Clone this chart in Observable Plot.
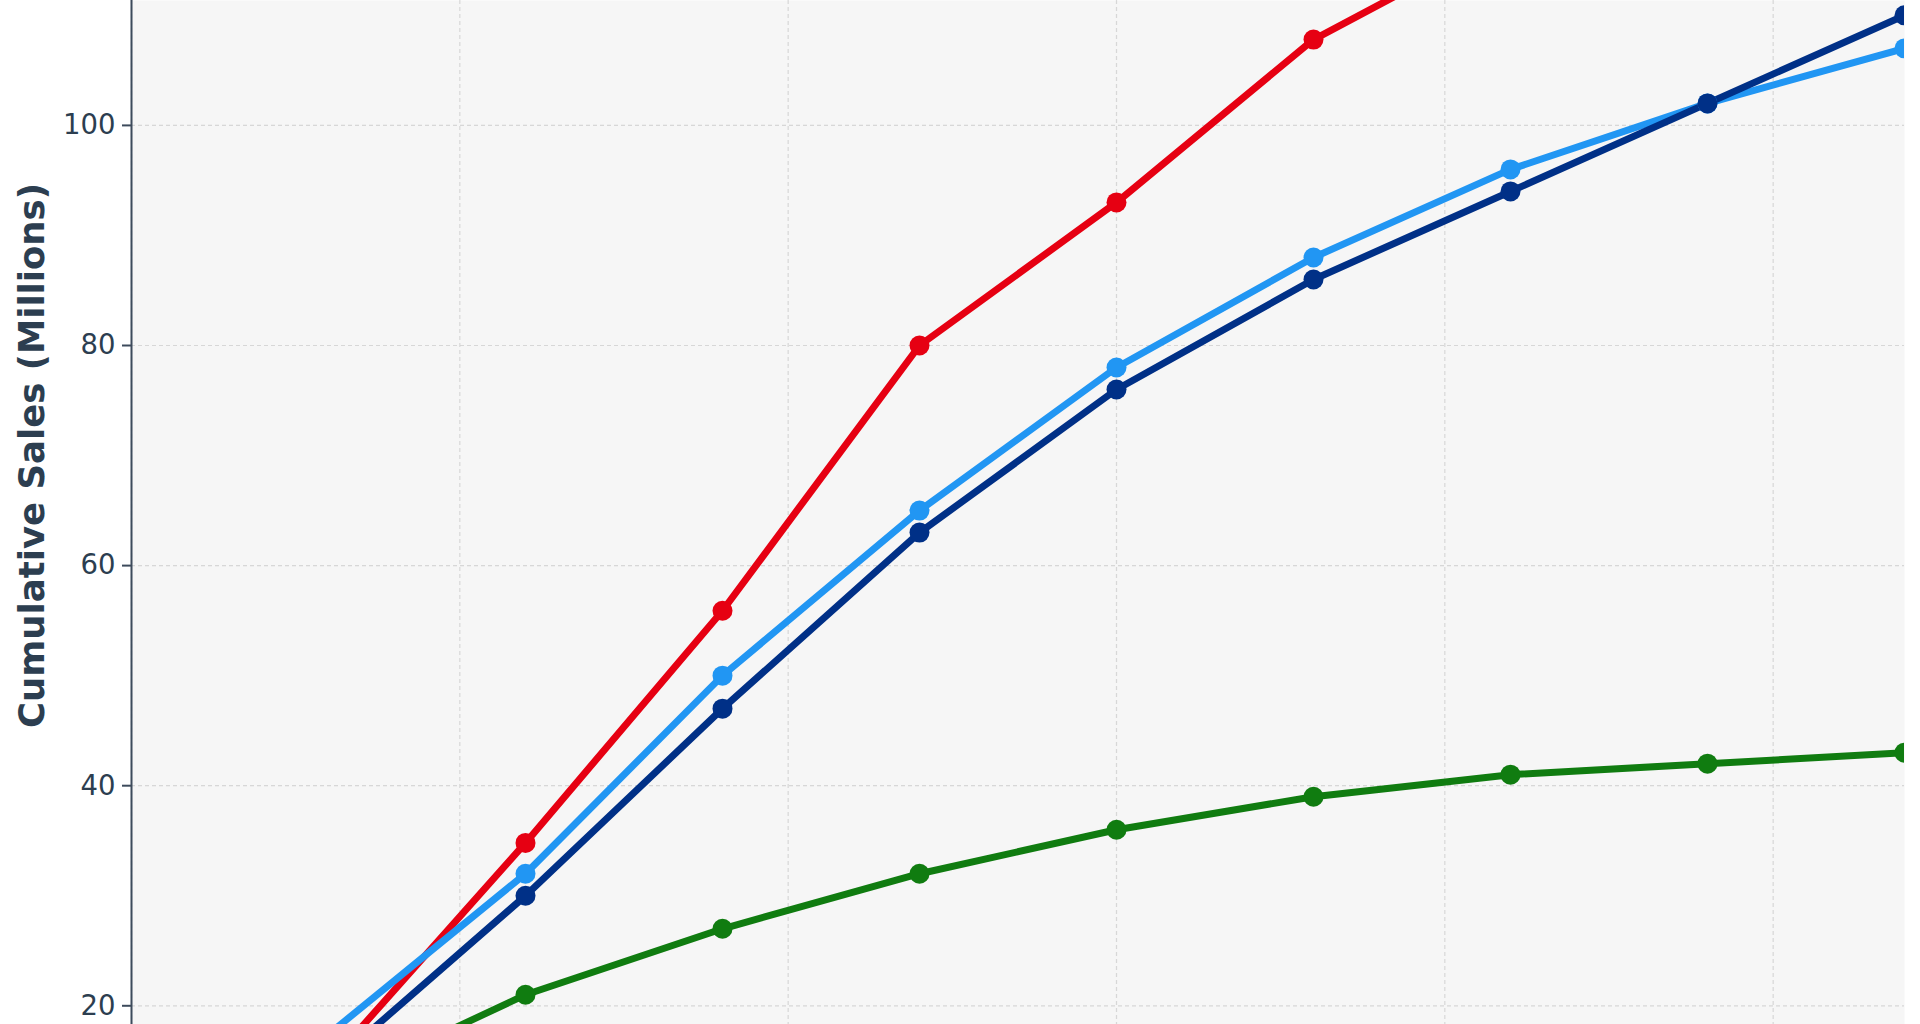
<!DOCTYPE html>
<html>
<head>
<meta charset="utf-8">
<script src="https://cdn.jsdelivr.net/npm/d3@7"></script>
<script src="https://cdn.jsdelivr.net/npm/@observablehq/plot@0.6"></script>
<style>
  html, body { margin: 0; padding: 0; background: #ffffff; overflow: hidden; }
  #chart svg { display: block; }
</style>
</head>
<body>
<div id="chart"></div>
<script>
// Time axis (x) – points every 3 units, grid every 5
const periods = [3, 6, 9, 12, 15, 18, 21, 24, 27];

// Series values (cumulative sales, millions)
const redSeries       = [14.7, 34.8, 55.9, 80.0, 93.0, 107.8, 117.3];
const lightBlueSeries = [17.4, 32, 50, 65, 78, 88, 96, 102, 107];
const darkBlueSeries  = [14.4, 30, 47, 63, 76, 86, 94, 102, 110];
const greenSeries     = [12.6, 21, 27, 32, 36, 39, 41, 42, 43];

const seriesNames  = ["Series A", "Series B", "Series C", "Series D"];
const seriesColors = ["#e60012", "#2196f3", "#003087", "#107c10"];

const yTicks = [20, 40, 60, 80, 100];
const xGridTicks = [0, 5, 10, 15, 20, 25];
const yLabel = "Cumulative Sales (Millions)";

const allSeries = [redSeries, lightBlueSeries, darkBlueSeries, greenSeries];
const rows = [];
allSeries.forEach((vals, si) => {
  vals.forEach((v, i) => rows.push({series: seriesNames[si], t: periods[i], value: v}));
});

const textColor = "#2c3e50";

const chart = Plot.plot({
  width: 1920,
  height: 1024,
  marginLeft: 131,
  marginRight: 16,
  marginTop: 0,
  marginBottom: 0,
  style: {background: "#ffffff", fontFamily: "DejaVu Sans", color: textColor},
  x: {domain: [0, 27], axis: null},
  y: {domain: [18.30, 111.35], axis: null},
  color: {type: "ordinal", domain: seriesNames, range: seriesColors},
  marks: [
    Plot.frame({fill: "#f6f6f6", stroke: null}),
    Plot.gridX(xGridTicks, {stroke: "#cccccc", strokeOpacity: 0.75, strokeWidth: 1.2, strokeDasharray: "4,3"}),
    Plot.gridY(yTicks, {stroke: "#cccccc", strokeOpacity: 0.75, strokeWidth: 1.2, strokeDasharray: "4,3"}),
    Plot.line(rows, {x: "t", y: "value", z: "series", stroke: "series", strokeWidth: 7, clip: true}),
    Plot.dot(rows, {x: "t", y: "value", fill: "series", r: 10, stroke: null, clip: true}),
    Plot.ruleX([0], {stroke: "#3d4b5c", strokeWidth: 2}),
    Plot.axisY(yTicks, {
      tickSize: 9,
      tickPadding: 7,
      fontSize: 27.5,
      stroke: "#3d4b5c",
      strokeWidth: 2,
      fill: textColor,
      label: null
    }),
    Plot.text([yLabel], {
      frameAnchor: "left",
      dx: -99,
      dy: -57,
      rotate: -90,
      fontSize: 35.5,
      fontWeight: "bold",
      fill: textColor,
      textAnchor: "middle",
      lineAnchor: "middle"
    })
  ]
});

document.getElementById("chart").appendChild(chart);
</script>
</body>
</html>
